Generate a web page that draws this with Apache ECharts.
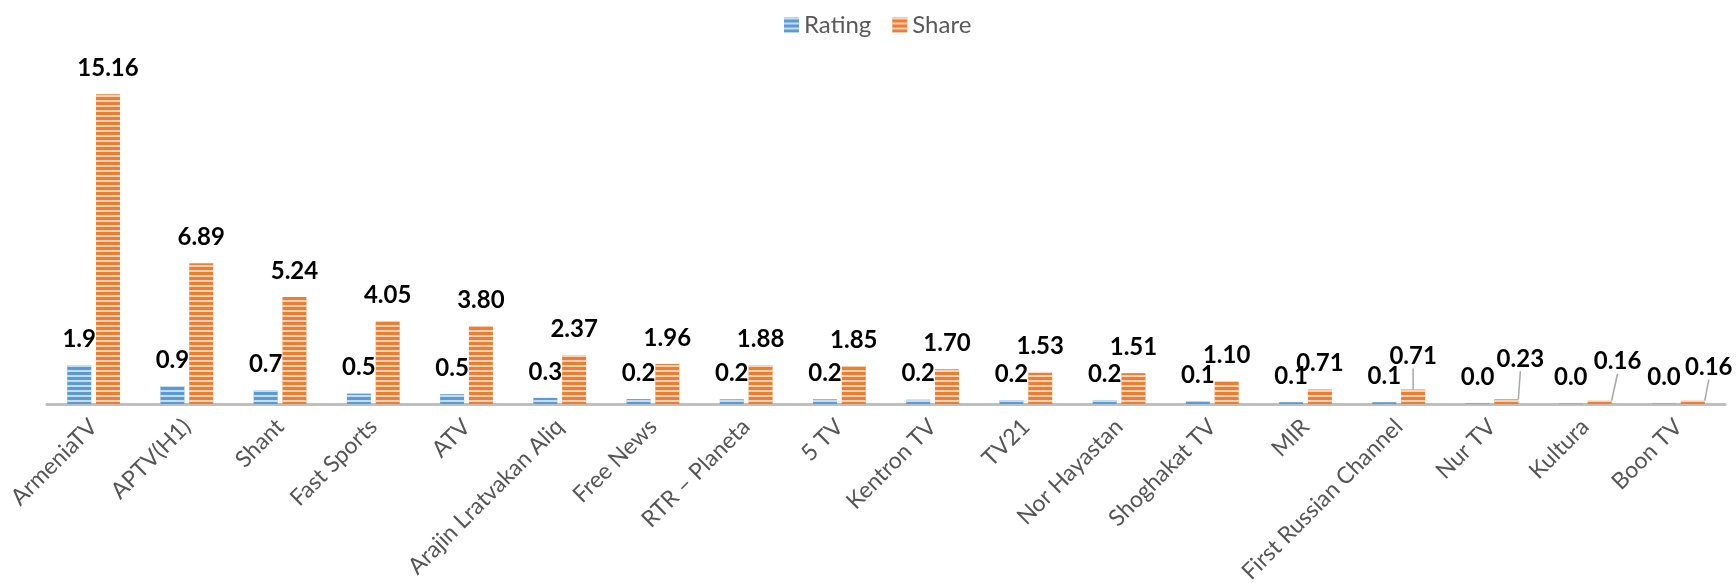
<!DOCTYPE html>
<html>
<head>
<meta charset="utf-8">
<script src="https://cdn.jsdelivr.net/npm/echarts@6/dist/echarts.min.js"></script>
<style>
  html, body { margin: 0; padding: 0; background: #ffffff; }
  #chart { width: 1736px; height: 583px; }
</style>
</head>
<body>
<div id="chart"></div>
<script>
const categories = ['ArmeniaTV', 'APTV(H1)', 'Shant', 'Fast Sports', 'ATV', 'Arajin Lratvakan Aliq', 'Free News',
  'RTR – Planeta', '5 TV', 'Kentron TV', 'TV21', 'Nor Hayastan', 'Shoghakat TV', 'MIR',
  'First Russian Channel', 'Nur TV', 'Kultura', 'Boon TV'];
const ratingValues = [1.91, 0.88, 0.66, 0.51, 0.48, 0.30, 0.24, 0.23, 0.23, 0.21, 0.19, 0.19, 0.14, 0.09, 0.09, 0.03, 0.02, 0.02];
const shareValues = [15.16, 6.89, 5.24, 4.05, 3.80, 2.37, 1.96, 1.88, 1.85, 1.70, 1.53, 1.51, 1.10, 0.71, 0.71, 0.23, 0.16, 0.16];
const seriesNames = ['Rating', 'Share'];

// label nudges (dx, dy) for the crowded share labels at the right end
const shareLabelShift = { 14: [0, -7], 15: [14, -14], 16: [18, -13], 17: [16, -7] };

const FONT = 'Lato, "Open Sans", sans-serif';

function stripeDecal() {
  return {
    symbol: 'rect',
    symbolSize: 1,
    dashArrayX: [1, 0],
    dashArrayY: [1.4, 2.6],
    rotation: 0,
    color: 'rgba(255,255,255,0.65)'
  };
}

const chart = echarts.init(document.getElementById('chart'), null, { renderer: 'canvas' });
chart.setOption({
  animation: false,
  backgroundColor: '#ffffff',
  aria: { enabled: true, decal: { show: true } },
  legend: {
    data: seriesNames,
    left: 779,
    top: 8,
    icon: 'rect',
    itemWidth: 15,
    itemHeight: 15,
    itemGap: 21,
    textStyle: { fontFamily: FONT, fontSize: 24, color: '#595959' }
  },
  grid: { left: 47, right: 11, top: 77, bottom: 179, containLabel: false, outerBoundsMode: 'none' },
  xAxis: {
    type: 'category',
    data: categories,
    axisLine: { show: true, lineStyle: { color: '#bfbfbf', width: 3 } },
    axisTick: { show: false },
    axisLabel: {
      interval: 0,
      rotate: 45,
      margin: 19,
      padding: [41, 0, 0, 0],
      fontFamily: FONT,
      fontSize: 23,
      color: '#555555'
    },
    splitLine: { show: false }
  },
  yAxis: {
    type: 'value',
    min: 0,
    max: 16,
    show: false,
    splitLine: { show: false }
  },
  series: [
    {
      name: seriesNames[0],
      type: 'bar',
      barWidth: 24,
      barGap: '20%',
      data: ratingValues,
      itemStyle: { color: '#5b9bd5', decal: stripeDecal() },
      label: {
        show: true,
        position: 'top',
        distance: 14,
        fontFamily: FONT,
        fontSize: 24,
        fontWeight: 'bold',
        color: '#000000',
        formatter: p => p.value.toFixed(1)
      }
    },
    {
      name: seriesNames[1],
      type: 'bar',
      barWidth: 24,
      barGap: '20%',
      data: shareValues.map((v, i) => ({ value: v, labelLine: { show: !!shareLabelShift[i] } })),
      itemStyle: { color: '#ed7d31', decal: stripeDecal() },
      label: {
        show: true,
        position: 'top',
        distance: 14,
        fontFamily: FONT,
        fontSize: 24,
        fontWeight: 'bold',
        color: '#000000',
        formatter: p => p.value.toFixed(2)
      },
      labelLine: { show: false, lineStyle: { color: '#a6a6a6', width: 1.5 } },
      labelLayout: function (params) {
        const s = shareLabelShift[params.dataIndex];
        return s ? { dx: s[0], dy: s[1] } : {};
      }
    }
  ]
});
</script>
</body>
</html>
